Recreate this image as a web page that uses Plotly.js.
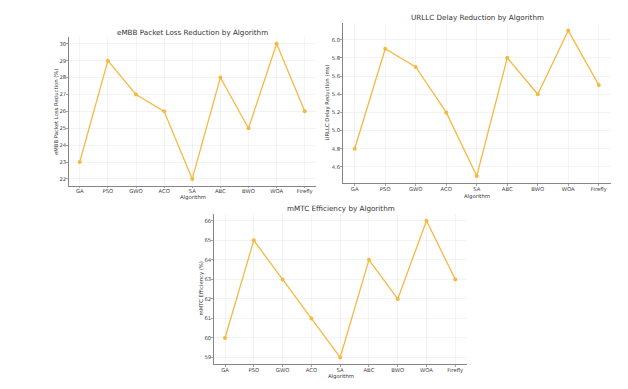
<!DOCTYPE html>
<html>
<head>
<meta charset="utf-8">
<script src="https://cdn.plot.ly/plotly-3.0.1.min.js"></script>
<style>html,body{margin:0;padding:0;background:#fff;}#chart{width:628px;height:389px;}</style>
</head>
<body>
<div id="chart"></div>
<script>
const algorithms = ["GA", "PSO", "GWO", "ACO", "SA", "ABC", "BWO", "WOA", "Firefly"];
const embbLoss = [23, 29, 27, 26, 22, 28, 25, 30, 26];
const urllcDelay = [4.8, 5.9, 5.7, 5.2, 4.5, 5.8, 5.4, 6.1, 5.5];
const mmtcEff = [60, 65, 63, 61, 59, 64, 62, 66, 63];

const embbTicks = [22, 23, 24, 25, 26, 27, 28, 29, 30];
const urllcTicks = [4.6, 4.8, 5.0, 5.2, 5.4, 5.6, 5.8, 6.0];
const mmtcTicks = [59, 60, 61, 62, 63, 64, 65, 66];

const lineColor = "#f5b942";
const W = 628, H = 389;
const px = v => v / W;
const py = v => 1 - v / H;

function trace(y, xa, ya) {
  return {
    x: algorithms, y: y, xaxis: xa, yaxis: ya, type: "scatter", mode: "lines+markers",
    line: {color: lineColor, width: 1.3},
    marker: {color: lineColor, size: 4},
    hoverinfo: "skip"
  };
}

const tickFont = {family: "DejaVu Sans", size: 5.3, color: "#444"};
function xax(domain, anchor) {
  return {
    domain: domain, anchor: anchor, type: "category", range: [-0.4, 8.4],
    showgrid: true, gridcolor: "#ebebeb", gridwidth: 0.6,
    showline: true, linecolor: "#666", linewidth: 0.8,
    ticks: "outside", ticklen: 1.5, tickwidth: 0.6, tickcolor: "#666",
    ticklabelstandoff: -1,
    tickfont: tickFont, zeroline: false, fixedrange: true
  };
}
function yax(domain, anchor, range, ticks, fmt) {
  return {
    domain: domain, anchor: anchor, range: range, tickvals: ticks,
    ticktext: ticks.map(v => fmt ? v.toFixed(1) : String(v)),
    showgrid: true, gridcolor: "#ebebeb", gridwidth: 0.6,
    showline: true, linecolor: "#666", linewidth: 0.8,
    ticks: "outside", ticklen: 1.5, tickwidth: 0.6, tickcolor: "#666",
    ticklabelstandoff: -1,
    tickfont: tickFont, zeroline: false, fixedrange: true
  };
}

const data = [
  trace(embbLoss, "x", "y"),
  trace(urllcDelay, "x2", "y2"),
  trace(mmtcEff, "x3", "y3")
];

const titleFont = {family: "DejaVu Sans", size: 7.2, color: "#333"};
const labFont = {family: "DejaVu Sans", size: 5.3, color: "#333"};
function ann(text, x, y, font, rot) {
  return {text: text, x: px(x), y: py(y), xref: "paper", yref: "paper",
    showarrow: false, font: font, textangle: rot || 0, xanchor: "center", yanchor: "middle"};
}

const layout = {
  width: W, height: H,
  margin: {l: 0, r: 0, t: 0, b: 0},
  paper_bgcolor: "#fff", plot_bgcolor: "#fff",
  showlegend: false,
  xaxis: xax([px(68.5), px(316)], "y"),
  yaxis: yax([py(185.7), py(37)], "x", [21.6, 30.4], embbTicks, false),
  xaxis2: xax([px(342.5), px(611)], "y2"),
  yaxis2: yax([py(183.3), py(23.3)], "x2", [4.42, 6.18], urllcTicks, true),
  xaxis3: xax([px(213.5), px(466.8)], "y3"),
  yaxis3: yax([py(364.3), py(214)], "x3", [58.65, 66.35], mmtcTicks, false),
  annotations: [
    ann("eMBB Packet Loss Reduction by Algorithm", 192.5, 32, titleFont),
    ann("URLLC Delay Reduction by Algorithm", 477, 17.5, titleFont),
    ann("mMTC Efficiency by Algorithm", 340.5, 208.5, titleFont),
    ann("Algorithm", 192.5, 197, labFont),
    ann("Algorithm", 477, 196.5, labFont),
    ann("Algorithm", 340.5, 376.3, labFont),
    ann("eMBB Packet Loss Reduction (%)", 55.5, 111.5, labFont, -90),
    ann("URLLC Delay Reduction (ms)", 326.5, 103, labFont, -90),
    ann("mMTC Efficiency (%)", 200.5, 289, labFont, -90)
  ]
};

Plotly.newPlot("chart", data, layout, {displayModeBar: false, staticPlot: true});
</script>
</body>
</html>
